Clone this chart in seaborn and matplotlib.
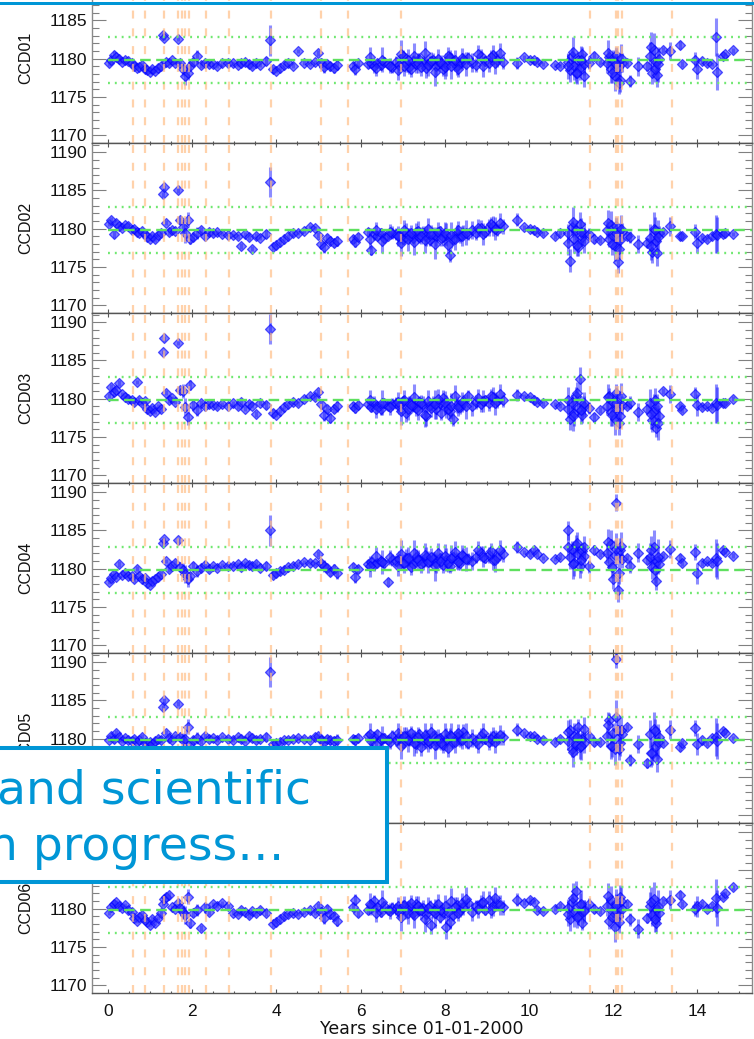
import matplotlib
matplotlib.use("Agg")
import matplotlib.pyplot as plt
from matplotlib.patches import Rectangle
from matplotlib.ticker import MultipleLocator, NullFormatter
import pandas as pd
import seaborn as sns

# ---------------- data ----------------
years = [
    0.03, 0.08, 0.14, 0.20, 0.27, 0.34, 0.41, 0.48,
    0.56, 0.62, 0.68, 0.74, 0.80, 0.87,
    0.93, 0.99, 1.05, 1.12, 1.18, 1.25,
    1.31, 1.33,
    1.38, 1.45, 1.52, 1.59,
    1.66,
    1.72, 1.78, 1.84, 1.90, 1.96, 2.03, 2.12, 2.20, 2.30, 2.40,
    2.50, 2.60, 2.72, 2.84,
    2.98, 3.08, 3.16, 3.25, 3.34, 3.43, 3.52, 3.62, 3.75,
    3.86,
    3.93, 4.00, 4.08, 4.17, 4.27, 4.40,
    4.52, 4.65, 4.80, 4.92,
    5.00, 5.06, 5.13, 5.20, 5.27,
    5.38, 5.45,
    5.82, 5.88, 5.95,
    6.18, 6.25, 6.32, 6.40, 6.48, 6.56, 6.65, 6.74,
    6.84, 6.92, 7.00, 7.08, 7.16, 7.24, 7.32, 7.40, 7.48, 7.56,
    7.64, 7.72, 7.80, 7.88, 7.96, 8.04, 8.12, 8.20, 8.28, 8.36,
    8.44, 8.55, 8.65, 8.75, 8.85, 8.95, 9.05, 9.15, 9.25, 9.38,
    9.72, 9.88, 10.02, 10.12, 10.20, 10.33,
    10.62, 10.75,
    10.92, 10.97, 11.02, 11.07, 11.12, 11.17, 11.22, 11.27, 11.32,
    11.42, 11.55, 11.68,
    11.86, 11.91, 11.96, 12.00, 12.04, 12.08, 12.12, 12.16, 12.20,
    12.33, 12.40, 12.60,
    12.80, 12.88, 12.93, 12.97, 13.01, 13.05, 13.10,
    13.18, 13.35,
    13.58, 13.64,
    13.95, 14.00,
    14.12, 14.22, 14.35,
    14.45, 14.47, 14.60, 14.66,
    14.85,
    # additional observations in the densely sampled periods
    6.22, 6.36, 6.52, 6.70, 6.88, 6.96, 7.04, 7.12, 7.20, 7.28,
    7.36, 7.44, 7.52, 7.60, 7.68, 7.76, 7.84, 7.92, 8.00, 8.08,
    8.16, 8.24, 8.32, 8.40, 8.50, 8.80, 8.90, 9.10, 9.20, 9.32,
    10.94, 11.04, 11.14, 11.24, 11.30,
    11.88, 11.98, 12.06, 12.14, 12.18,
    12.90, 12.99, 13.07,
]

err = [
    0.3, 0.4, 0.5, 0.3, 0.4, 0.3, 0.3, 0.4,
    0.3, 0.4, 0.3, 0.3, 0.4, 0.3,
    0.3, 0.3, 0.4, 0.3, 0.3, 0.4,
    0.3, 0.3,
    0.3, 0.4, 0.3, 0.3,
    0.3,
    0.5, 0.9, 1.2, 1.0, 0.6, 0.5, 0.8, 0.4, 0.5, 0.4,
    0.3, 0.3, 0.3, 0.3,
    0.3, 0.3, 0.4, 0.3, 0.4, 0.3, 0.4, 0.3, 0.5,
    2.0,
    0.4, 0.3, 0.3, 0.3, 0.3, 0.3,
    0.3, 0.3, 0.3, 0.3,
    0.4, 0.6, 0.8, 0.5, 0.6,
    0.6, 0.7,
    0.5, 0.7, 0.5,
    0.5, 0.6, 0.8, 0.5, 0.7, 0.6, 0.5, 0.8,
    0.8, 1.0, 0.7, 1.2, 0.9, 0.8, 1.1, 0.7, 1.0, 1.3,
    0.8, 0.9, 1.2, 0.7, 1.0, 1.5, 0.9, 0.8, 1.1, 0.9,
    1.0, 0.8, 1.2, 0.9, 1.0, 0.7, 1.1, 1.3, 0.9, 1.0,
    0.8, 0.3, 0.3, 0.3, 0.3, 0.3,
    0.3, 0.3,
    1.2, 1.5, 1.0, 1.8, 1.3, 1.1, 1.6, 1.0, 1.4,
    0.8, 0.6, 0.4,
    1.2, 1.0, 1.8, 1.3, 2.0, 1.1, 1.5, 1.6, 1.2,
    0.4, 0.8, 1.2,
    0.6, 1.8, 1.5, 2.2, 1.2, 1.6, 1.0,
    0.4, 1.2,
    0.5, 0.4,
    1.0, 1.4,
    0.4, 0.3, 0.3,
    2.5, 2.4, 0.4, 0.3,
    0.3,
    1.4, 1.1, 1.6, 1.0, 1.3, 1.8, 1.2, 1.5, 1.0, 1.7,
    1.3, 1.1, 1.6, 1.4, 1.2, 1.9, 1.3, 1.0, 1.5, 1.2,
    1.7, 1.4, 1.1, 1.3, 1.6, 1.2, 1.4, 1.0, 1.5, 1.3,
    1.6, 2.0, 1.4, 1.8, 1.5,
    1.7, 1.4, 2.1, 1.5, 1.8,
    1.9, 1.6, 2.3,
]

ccd01 = [
    1179.4, 1179.8, 1180.5, 1180.2, 1180.0, 1179.6, 1179.9, 1179.7,
    1179.4, 1179.0, 1178.8, 1178.9, 1179.2, 1178.7,
    1178.5, 1178.3, 1178.6, 1178.4, 1178.8, 1179.0,
    1183.1, 1182.7,
    1179.6, 1179.4, 1179.8, 1179.5,
    1182.6,
    1179.5, 1178.6, 1177.8, 1178.2, 1179.0, 1179.6, 1180.3, 1179.2, 1179.5, 1179.3,
    1179.3, 1179.1, 1179.4, 1179.4,
    1179.4, 1179.2, 1179.5, 1179.6, 1179.3, 1179.0, 1179.4, 1179.2, 1179.7,
    1182.4,
    1178.6, 1178.4, 1178.8, 1179.2, 1179.4, 1179.1,
    1181.0, 1179.5, 1179.3, 1179.6,
    1180.8, 1179.5, 1178.9, 1179.3, 1179.0,
    1178.8, 1179.2,
    1179.1, 1178.6, 1179.4,
    1179.3, 1179.5, 1179.0, 1179.4, 1179.2, 1179.6, 1179.3, 1178.9,
    1179.6, 1179.2, 1180.4, 1179.5, 1178.9, 1179.7, 1179.3, 1180.0, 1179.4, 1178.8,
    1179.6, 1179.9, 1179.1, 1179.5, 1178.7, 1179.3, 1180.2, 1179.6, 1179.0, 1179.4,
    1179.8, 1180.1, 1179.5, 1179.2, 1180.3, 1179.7, 1179.4, 1180.5, 1179.8, 1179.6,
    1179.4, 1180.2, 1179.9, 1179.8, 1179.6, 1179.3,
    1179.2, 1179.1,
    1179.6, 1178.5, 1180.4, 1179.0, 1178.2, 1179.8, 1178.8, 1180.6, 1179.3,
    1179.5, 1180.3, 1179.6,
    1179.4, 1180.2, 1178.6, 1179.9, 1177.8, 1180.5, 1178.9, 1177.2, 1179.5,
    1179.4, 1177.1, 1179.0,
    1179.0, 1180.4, 1178.2, 1181.2, 1179.6, 1177.9, 1180.0,
    1181.2, 1181.0,
    1181.8, 1179.3,
    1179.9, 1178.7,
    1179.7, 1179.4, 1179.3,
    1182.8, 1178.3, 1180.4, 1180.6,
    1181.1,
    1180.2, 1178.8, 1179.9, 1179.1, 1178.5, 1180.6, 1179.0, 1179.8, 1178.6, 1180.3,
    1179.4, 1178.9, 1180.7, 1179.2, 1179.7, 1178.3, 1180.0, 1179.5, 1178.9, 1180.4,
    1179.1, 1179.8, 1178.7, 1180.1, 1179.3, 1180.6, 1179.0, 1180.2, 1179.5, 1180.8,
    1179.0, 1180.9, 1178.1, 1179.9, 1177.8,
    1180.8, 1178.2, 1179.3, 1176.9, 1180.1,
    1181.6, 1178.6, 1179.3,
]

ccd02 = [
    1180.6, 1181.2, 1179.3, 1180.8, 1180.4, 1180.1, 1180.5, 1180.3,
    1179.8, 1180.0, 1179.6, 1179.5, 1179.7, 1179.3,
    1178.9, 1178.7, 1179.0, 1178.6, 1179.2, 1179.5,
    1184.5, 1185.4,
    1180.8, 1179.6, 1179.9, 1179.7,
    1185.0,
    1181.1, 1180.2, 1179.4, 1181.2, 1178.6, 1178.9, 1179.4, 1179.8, 1179.1, 1179.6,
    1179.4, 1179.6, 1179.3, 1179.2,
    1179.2, 1179.0, 1177.8, 1179.3, 1178.9, 1177.4, 1179.1, 1178.8, 1179.3,
    1186.1,
    1177.6, 1177.9, 1178.3, 1178.7, 1179.0, 1179.4,
    1179.5, 1179.7, 1180.2, 1180.1,
    1179.2, 1178.0, 1177.6, 1178.8, 1178.4,
    1178.2, 1178.4,
    1178.7, 1178.3, 1178.9,
    1179.6, 1177.2, 1179.3, 1179.0, 1179.4, 1178.8, 1179.1, 1179.5,
    1179.3, 1179.0, 1178.6, 1179.5, 1179.2, 1178.8, 1179.6, 1178.9, 1179.4, 1179.1,
    1178.5, 1179.3, 1179.0, 1179.7, 1178.9, 1179.2, 1176.6, 1178.7, 1179.4, 1179.1,
    1179.5, 1179.3, 1179.8, 1179.4, 1180.1, 1179.6, 1180.2, 1180.4, 1179.9, 1180.3,
    1181.2, 1180.2, 1180.0, 1179.9, 1179.6, 1179.4,
    1179.0, 1179.5,
    1179.4, 1175.8, 1180.2, 1178.6, 1179.8, 1177.6, 1180.6, 1178.9, 1179.5,
    1179.3, 1178.7, 1178.5,
    1179.8, 1178.6, 1180.5, 1179.0, 1177.8, 1180.3, 1175.7, 1178.5, 1179.6,
    1179.0, 1178.9, 1178.0,
    1178.2, 1178.8, 1177.0, 1180.0, 1178.4, 1176.8, 1179.4,
    1179.6, 1180.3,
    1179.0, 1179.1,
    1179.6, 1178.2,
    1178.8, 1178.6, 1179.0,
    1179.3, 1179.2, 1179.3, 1179.4,
    1179.3,
    1178.7, 1179.8, 1178.4, 1179.6, 1179.0, 1178.2, 1179.9, 1178.6, 1179.5, 1178.3,
    1179.7, 1179.1, 1178.5, 1180.0, 1179.3, 1178.0, 1179.6, 1178.8, 1179.4, 1177.9,
    1179.2, 1178.6, 1179.9, 1179.0, 1179.5, 1180.1, 1179.3, 1180.6, 1180.0, 1180.8,
    1178.2, 1180.9, 1177.9, 1179.6, 1178.4,
    1180.7, 1178.0, 1179.4, 1177.4, 1180.0,
    1177.8, 1179.9, 1178.9,
]

ccd03 = [
    1180.4, 1181.5, 1180.9, 1181.2, 1182.1, 1180.6, 1180.2, 1180.0,
    1179.8, 1179.6, 1182.2, 1179.9, 1179.4, 1179.7,
    1178.6, 1178.4, 1178.8, 1178.3, 1179.0, 1178.7,
    1186.1, 1187.9,
    1180.8, 1179.8, 1180.1, 1179.6,
    1187.3,
    1181.1, 1181.0, 1178.9, 1177.6, 1181.8, 1179.2, 1178.5, 1179.4, 1179.1, 1179.3,
    1179.2, 1179.0, 1179.3, 1179.1,
    1179.4, 1179.0, 1179.6, 1178.7, 1179.3, 1179.1, 1178.0, 1179.5, 1179.2,
    1189.1,
    1178.2, 1177.9, 1178.4, 1178.9, 1179.3, 1179.6,
    1179.4, 1180.0, 1180.3, 1180.2,
    1180.9, 1179.3, 1177.9, 1178.7, 1177.5,
    1178.7, 1179.0,
    1179.1, 1178.8, 1179.2,
    1179.3, 1178.9, 1179.5, 1179.1, 1178.6, 1179.4, 1179.0, 1179.3,
    1179.4, 1179.0, 1179.7, 1178.2, 1179.5, 1179.1, 1178.8, 1179.6, 1179.3, 1177.8,
    1179.2, 1179.5, 1178.6, 1179.4, 1180.1, 1179.0, 1178.4, 1177.3, 1179.2, 1178.9,
    1179.5, 1180.3, 1179.0, 1179.6, 1179.3, 1179.8, 1179.5, 1180.2, 1179.7, 1179.9,
    1180.5, 1180.3, 1180.2, 1179.8, 1179.6, 1179.4,
    1179.3, 1179.1,
    1178.7, 1177.4, 1179.6, 1178.2, 1180.3, 1178.8, 1182.6, 1177.9, 1179.0,
    1178.8, 1177.6, 1178.5,
    1179.1, 1180.4, 1178.3, 1179.6, 1177.3, 1180.8, 1178.9, 1177.8, 1179.2,
    1179.1, 1179.5, 1178.3,
    1178.7, 1179.5, 1177.2, 1178.4, 1176.2, 1179.0, 1177.8,
    1181.0, 1180.6,
    1179.0, 1178.5,
    1180.6, 1179.2,
    1178.9, 1179.1, 1178.8,
    1179.4, 1179.2, 1179.4, 1179.5,
    1180.0,
    1179.8, 1178.6, 1179.5, 1178.9, 1179.6, 1178.4, 1179.9, 1178.7, 1179.2, 1180.2,
    1178.5, 1179.4, 1177.9, 1179.7, 1178.8, 1179.3, 1180.0, 1178.2, 1179.5, 1178.6,
    1179.1, 1180.4, 1178.9, 1179.6, 1179.0, 1180.1, 1179.7, 1180.3, 1179.4, 1180.6,
    1179.9, 1177.8, 1180.8, 1178.5, 1179.4,
    1180.2, 1177.9, 1179.5, 1176.8, 1180.3,
    1178.0, 1179.8, 1176.9,
]

ccd04 = [
    1178.3, 1178.8, 1179.3, 1178.9, 1180.6, 1179.2, 1179.4, 1179.0,
    1179.0, 1178.7, 1180.0, 1179.1, 1178.6, 1178.8,
    1178.2, 1177.9, 1178.4, 1178.6, 1178.9, 1179.3,
    1183.3, 1183.9,
    1181.0, 1180.0, 1180.3, 1180.8,
    1183.7,
    1180.2, 1179.8, 1179.3, 1178.6, 1179.0, 1180.4, 1179.7, 1180.1, 1180.5, 1180.0,
    1180.3, 1180.1, 1180.5, 1180.4,
    1180.4, 1180.6, 1180.2, 1180.7, 1180.5, 1180.3, 1180.6, 1180.1, 1180.4,
    1185.0,
    1179.2, 1179.4, 1179.7, 1179.9, 1180.2, 1180.4,
    1180.6, 1180.9, 1180.8, 1180.7,
    1181.9, 1180.7, 1180.4, 1180.1, 1179.6,
    1180.0, 1179.4,
    1180.2, 1178.9, 1180.0,
    1180.6, 1180.9, 1180.5, 1180.8, 1181.0, 1180.7, 1178.3, 1181.1,
    1181.0, 1181.3, 1180.8, 1181.4, 1181.1, 1180.6, 1181.5, 1181.2, 1180.9, 1181.6,
    1181.0, 1181.3, 1180.7, 1181.4, 1180.5, 1181.2, 1180.4, 1181.5, 1181.1, 1180.8,
    1181.7, 1181.3, 1181.0, 1181.6, 1182.0, 1181.4, 1181.8, 1181.2, 1181.6, 1181.9,
    1182.8, 1182.2, 1181.9, 1182.5, 1181.9, 1181.4,
    1181.3, 1181.6,
    1185.0, 1181.5, 1182.6, 1180.8, 1183.1, 1181.9, 1180.4, 1182.3, 1181.7,
    1180.3, 1182.5, 1181.9,
    1182.0, 1180.9, 1183.2, 1178.6, 1181.8, 1188.6, 1177.2, 1182.4, 1181.3,
    1181.4, 1180.3, 1182.1,
    1181.2, 1181.6, 1180.2, 1182.8, 1178.4, 1181.0, 1180.6,
    1181.7, 1182.6,
    1181.4, 1180.8,
    1182.2, 1179.4,
    1180.8, 1181.0, 1180.7,
    1181.4, 1181.0, 1182.4, 1182.2,
    1181.7,
    1180.3, 1181.7, 1180.9, 1181.5, 1180.4, 1181.9, 1180.7, 1181.4, 1180.2, 1182.0,
    1181.1, 1180.6, 1181.8, 1180.9, 1181.5, 1180.3, 1182.1, 1181.0, 1181.7, 1180.8,
    1181.4, 1182.2, 1180.9, 1181.8, 1181.3, 1182.4, 1181.6, 1182.3, 1181.1, 1182.5,
    1182.9, 1180.6, 1183.4, 1181.2, 1182.8,
    1183.5, 1180.2, 1182.6, 1179.5, 1183.0,
    1182.4, 1179.8, 1181.6,
]

ccd05 = [
    1179.9, 1180.3, 1180.0, 1180.8, 1180.2, 1179.7, 1180.1, 1179.8,
    1179.7, 1180.0, 1179.6, 1179.8, 1180.2, 1179.5,
    1179.4, 1179.6, 1179.3, 1179.7, 1180.0, 1179.9,
    1184.1, 1185.0,
    1180.8, 1180.1, 1179.9, 1180.3,
    1184.6,
    1180.2, 1179.8, 1180.0, 1181.6, 1179.3, 1179.9, 1180.1, 1179.7, 1180.3, 1180.0,
    1180.1, 1179.9, 1180.2, 1180.0,
    1179.9, 1180.2, 1180.0, 1179.7, 1180.3, 1180.1, 1179.8, 1180.0, 1180.2,
    1188.7,
    1179.3, 1179.5, 1179.6, 1179.8, 1179.9, 1180.0,
    1180.1, 1180.0, 1179.9, 1180.2,
    1180.3, 1179.9, 1179.6, 1180.0, 1179.8,
    1179.7, 1179.9,
    1180.0, 1179.8, 1180.1,
    1180.4, 1179.7, 1180.2, 1180.6, 1179.9, 1180.1, 1179.8, 1180.3,
    1179.8, 1180.2, 1179.5, 1180.4, 1179.9, 1180.1, 1179.3, 1180.6, 1179.8, 1180.0,
    1179.4, 1180.3, 1179.7, 1180.1, 1179.2, 1179.9, 1180.5, 1179.6, 1180.2, 1179.8,
    1180.9, 1179.5, 1180.1, 1179.7, 1180.4, 1180.0, 1179.6, 1180.3, 1180.1, 1180.2,
    1181.2, 1180.7, 1180.4, 1180.3, 1180.0, 1179.9,
    1179.6, 1180.0,
    1179.7, 1181.1, 1178.6, 1180.3, 1179.2, 1181.5, 1178.9, 1180.0, 1179.5,
    1180.3, 1179.6, 1179.6,
    1180.3, 1182.4, 1179.1, 1180.8, 1178.6, 1190.4, 1181.2, 1179.4, 1180.6,
    1181.5, 1177.2, 1179.3,
    1176.8, 1180.6, 1178.1, 1181.3, 1179.0, 1177.3, 1180.2,
    1179.5, 1181.2,
    1178.9, 1179.5,
    1181.4, 1179.3,
    1179.8, 1179.4, 1180.1,
    1180.2, 1179.7, 1181.0, 1180.8,
    1180.1,
    1180.6, 1179.3, 1180.1, 1179.6, 1180.8, 1179.1, 1180.3, 1179.8, 1180.7, 1179.4,
    1180.2, 1178.9, 1180.5, 1179.7, 1180.9, 1179.2, 1180.0, 1179.5, 1180.6, 1178.8,
    1180.3, 1179.6, 1180.8, 1179.9, 1180.4, 1179.3, 1180.7, 1180.0, 1179.6, 1180.5,
    1180.9, 1178.3, 1180.2, 1179.0, 1181.3,
    1181.8, 1179.0, 1182.9, 1178.7, 1181.1,
    1178.2, 1181.0, 1179.6,
]

ccd06 = [
    1179.5, 1180.2, 1180.6, 1180.9, 1180.4, 1180.1, 1180.5, 1179.9,
    1179.6, 1178.8, 1178.4, 1178.9, 1179.2, 1178.5,
    1178.3, 1177.9, 1178.6, 1178.2, 1178.8, 1179.4,
    1180.6, 1181.3,
    1181.6, 1181.8, 1180.2, 1180.0,
    1180.8,
    1180.1, 1179.6, 1179.2, 1181.6, 1178.1, 1179.4, 1179.8, 1177.5, 1180.2, 1179.6,
    1180.6, 1180.4, 1180.7, 1180.3,
    1179.5, 1179.3, 1179.8, 1179.6, 1179.2, 1179.7, 1179.4, 1179.9, 1179.5,
    1186.5,
    1178.0, 1178.3, 1178.7, 1179.0, 1179.3, 1179.5,
    1179.3, 1179.6, 1179.8, 1179.5,
    1180.4, 1179.6, 1178.8, 1180.0, 1179.3,
    1179.0, 1178.4,
    1180.2, 1181.2, 1179.4,
    1179.8, 1180.5, 1181.0, 1180.2, 1179.6, 1180.4, 1179.9, 1180.1,
    1180.0, 1179.6, 1180.4, 1179.8, 1180.2, 1179.5, 1180.6, 1179.9, 1180.1, 1179.3,
    1180.3, 1179.7, 1180.0, 1178.9, 1179.6, 1177.6, 1178.3, 1179.2, 1180.5, 1179.8,
    1180.2, 1180.7, 1179.6, 1180.3, 1180.8, 1179.9, 1181.2, 1180.4, 1180.6, 1180.2,
    1181.2, 1180.8, 1181.2, 1180.9, 1179.9, 1179.7,
    1180.0, 1180.4,
    1180.1, 1178.6, 1180.9, 1179.4, 1182.3, 1179.0, 1180.5, 1178.2, 1179.8,
    1180.6, 1180.0, 1179.7,
    1180.3, 1178.4, 1181.2, 1179.6, 1177.6, 1180.8, 1179.1, 1181.5, 1180.0,
    1180.6, 1178.6, 1177.4,
    1178.8, 1180.4, 1179.2, 1181.3, 1178.2, 1180.0, 1179.5,
    1181.0, 1181.2,
    1181.8, 1180.6,
    1180.0, 1180.3,
    1180.6, 1180.0, 1180.4,
    1181.4, 1180.1, 1181.6, 1182.0,
    1182.8,
    1180.6, 1179.4, 1180.9, 1179.7, 1180.3, 1178.9, 1180.5, 1179.5, 1180.8, 1179.2,
    1180.4, 1179.8, 1178.6, 1180.1, 1177.9, 1179.4, 1180.6, 1179.9, 1180.3, 1179.6,
    1181.0, 1180.2, 1179.5, 1180.7, 1181.3, 1180.0, 1180.9, 1179.8, 1181.4, 1180.5,
    1179.3, 1181.4, 1178.9, 1180.6, 1179.7,
    1181.7, 1178.9, 1180.5, 1178.3, 1181.0,
    1180.9, 1178.6, 1180.2,
]

ccd_names = ["CCD01", "CCD02", "CCD03", "CCD04", "CCD05", "CCD06"]
ccd_values = [ccd01, ccd02, ccd03, ccd04, ccd05, ccd06]

# dates of instrument events (orange dashed lines)
event_years = [0.586, 0.878, 1.32, 1.654, 1.749, 1.834, 1.915, 2.326, 2.878,
               3.868, 5.05, 5.70, 6.95, 11.44, 12.07, 12.12, 12.21, 13.40]

ref_level = 1179.9
band_levels = [1182.9, 1176.9]

x_ticks = [0, 2, 4, 6, 8, 10, 12, 14]
y_ticks = [1170, 1175, 1180, 1185, 1190]

overlay_lines = ["and scientific", "n progress…"]
x_title = "Years since 01-01-2000"

for v in ccd_values:
    assert len(v) == len(years) == len(err), (len(v), len(years), len(err))

# ---------------- figure ----------------
sns.set_style("white")
plt.rcParams['font.family'] = ['Liberation Sans', 'DejaVu Sans']

W, H = 754, 1039
fig = plt.figure(figsize=(W / 100, H / 100), dpi=100)

BLUE = '#0000ff'
ACCENT = '#0096d6'
spine_c = '#555555'
tick_c = '#808080'

for i, (name, vals) in enumerate(zip(ccd_names, ccd_values)):
    top_px = -27 + 170 * i
    ax = fig.add_axes([92 / W, 1 - (top_px + 170) / H, 660 / W, 170 / H])
    df = pd.DataFrame({"years": years, "value": vals, "err": err})

    ax.errorbar(df["years"], df["value"], yerr=df["err"], fmt='none',
                ecolor=(0.1, 0.1, 1.0, 0.5), elinewidth=2.2, capsize=0, zorder=2)
    sns.scatterplot(data=df, x="years", y="value", ax=ax, marker='D', s=26,
                    color='#2a2aff', alpha=0.62, edgecolor=BLUE, linewidth=0.9,
                    legend=False, zorder=3)

    for xe in event_years:
        ax.axvline(xe, color='#ffbf88', lw=1.6, ls=(0, (3.6, 4.4)), alpha=0.7, zorder=4)
    ax.hlines(band_levels, 0, 15.3, colors='#70e870', lw=1.7,
              linestyles=[(0, (0.8, 2.1))], zorder=5)
    ax.hlines([ref_level], 0, 15.3, colors='#5fe05f', lw=1.7,
              linestyles=[(0, (4.5, 2.3))], zorder=5)

    ax.set_xlim(-0.38, 15.3)
    ax.set_ylim(1169.0, 1191.2)
    ax.set_xticks(x_ticks)
    ax.set_yticks(y_ticks)
    ax.xaxis.set_minor_locator(MultipleLocator(0.5))
    ax.yaxis.set_minor_locator(MultipleLocator(1))
    ax.tick_params(axis='y', which='major', direction='in', length=10, width=0.8,
                   color=tick_c, left=True, right=True, labelsize=12.5, pad=3.5,
                   labelcolor='#111111')
    ax.tick_params(axis='y', which='minor', direction='in', length=5, width=0.8,
                   color=tick_c, left=True, right=True)
    ax.tick_params(axis='x', which='major', direction='in', length=3, width=0.8,
                   color=spine_c, top=True, bottom=True, labelsize=12.5, pad=8,
                   labelcolor='#111111')
    ax.tick_params(axis='x', which='minor', direction='in', length=1.6, width=0.8,
                   color=spine_c, top=True, bottom=True)
    for s in ax.spines.values():
        s.set_visible(True)
        s.set_color(spine_c)
        s.set_linewidth(1.0)
    ax.spines['left'].set_color('#8a8a8a')
    ax.spines['right'].set_color('#8a8a8a')

    ax.set_ylabel(name, fontsize=11.5, color='#111111')
    ax.yaxis.set_label_coords(-0.0894, 0.5)
    ax.set_xlabel("")
    if i < 5:
        ax.xaxis.set_major_formatter(NullFormatter())

fig.text(422 / W, 1 - 1029 / H, x_title, ha='center', va='center',
         fontsize=12.5, family='DejaVu Sans', color='#111111')

# slide frame line at top
fig.add_artist(Rectangle((0, 1 - 5 / H), 1, 3 / H, transform=fig.transFigure,
                         facecolor=ACCENT, edgecolor='none', zorder=20))

# overlay call-out box
fig.add_artist(Rectangle((-10 / W, 1 - 881.5 / H), 397 / W, 134 / H,
                         transform=fig.transFigure, facecolor='white',
                         edgecolor=ACCENT, lw=2.9, zorder=20))
fig.text(-3 / W, 1 - 803 / H, overlay_lines[0], fontsize=34, color=ACCENT,
         family='DejaVu Sans', va='baseline', ha='left', zorder=21)
fig.text(-12 / W, 1 - 860 / H, overlay_lines[1], fontsize=34, color=ACCENT,
         family='DejaVu Sans', va='baseline', ha='left', zorder=21)

fig.savefig("out.png", dpi=100)
